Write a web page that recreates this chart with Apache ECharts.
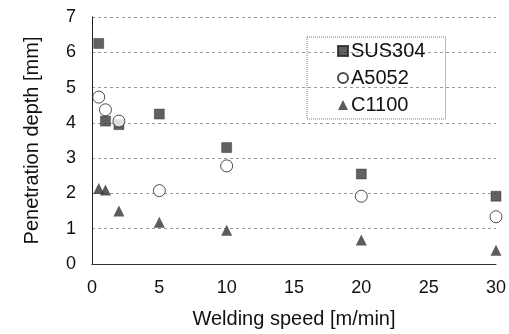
<!DOCTYPE html>
<html>
<head>
	<meta charset="utf-8">
	<title>Penetration depth</title>
	<script src="https://cdn.jsdelivr.net/npm/echarts@6/dist/echarts.min.js"></script>
	<style>
		html, body { margin: 0; padding: 0; background: #fff; }
		#main { width: 509px; height: 334px; }
	</style>
</head>
<body>
	<div id="main"></div>
	<script>
		// welding speed [m/min] per point
		var speedSUS = [0.5, 1, 2, 5, 10, 20, 30];
		var depthSUS = [6.25, 4.05, 3.95, 4.25, 3.3, 2.55, 1.92];
		var speedA = [0.5, 1, 2, 5, 10, 20, 30];
		var depthA = [4.73, 4.37, 4.05, 2.08, 2.78, 1.92, 1.34];
		var speedC = [0.5, 1, 2, 5, 10, 20, 30];
		var depthC = [2.14, 2.1, 1.5, 1.18, 0.96, 0.68, 0.39];
		var names = ['SUS304', 'A5052', 'C1100'];

		function pairs(xs, ys) {
			var out = [];
			for (var i = 0; i < xs.length; i++) out.push([xs[i], ys[i]]);
			return out;
		}

		var font = 'Liberation Sans, Arial, sans-serif';
		var chart = echarts.init(document.getElementById('main'));
		var option = {
			animation: false,
			textStyle: { fontFamily: font },
			grid: { left: 92, right: 6, top: 17, bottom: 67 },
			legend: {
				orient: 'vertical',
				left: 307,
				top: 37,
				padding: [4, 20, 4, 30],
				itemGap: 7,
				itemWidth: 10,
				itemHeight: 10,
				borderColor: '#777',
				borderWidth: 1,
				borderType: 'dotted',
				textStyle: { fontSize: 20, color: '#111', fontFamily: font, padding: [0, 0, 0, -2] },
				data: names
			},
			xAxis: [{
				type: 'value',
				min: 0, max: 30, interval: 5,
				name: 'Welding speed [m/min]',
				nameLocation: 'middle',
				nameGap: 45,
				nameTextStyle: { fontSize: 20, color: '#111' },
				axisLine: { show: true, lineStyle: { color: '#888', type: 'dotted' } },
				axisTick: { show: false },
				axisLabel: { fontSize: 18, color: '#111', margin: 15 },
				splitLine: { show: false }
			}, {
				type: 'value', position: 'top',
				min: 0, max: 30,
				axisLine: { show: true, lineStyle: { color: '#333' } },
				axisTick: { show: false }, axisLabel: { show: false }, splitLine: { show: false }
			}],
			yAxis: [{
				type: 'value',
				min: 0, max: 7, interval: 1,
				name: 'Penetration depth [mm]',
				nameLocation: 'middle',
				nameGap: 50,
				nameTextStyle: { fontSize: 20, color: '#111' },
				axisLine: { show: true, lineStyle: { color: '#888', type: 'dotted' } },
				axisTick: { show: false },
				axisLabel: { fontSize: 18, color: '#111', margin: 16 },
				splitLine: { show: true, lineStyle: { color: '#999', type: [3, 3] } }
			}, {
				type: 'value', position: 'right',
				min: 0, max: 7,
				axisLine: { show: true, lineStyle: { color: '#222' } },
				axisTick: { show: false }, axisLabel: { show: false }, splitLine: { show: false }
			}],
			series: [{
				name: names[0],
				type: 'scatter',
				symbol: 'rect',
				symbolSize: 10,
				itemStyle: { color: '#3a3a3a', borderColor: '#222', borderWidth: 0.5 },
				data: pairs(speedSUS, depthSUS),
				z: 3
			}, {
				name: names[1],
				type: 'scatter',
				symbol: 'circle',
				symbolSize: 12,
				itemStyle: { color: '#fff', borderColor: '#222', borderWidth: 1 },
				data: pairs(speedA, depthA),
				z: 4
			}, {
				name: names[2],
				type: 'scatter',
				symbol: 'triangle',
				symbolSize: 11,
				itemStyle: { color: '#333' },
				data: pairs(speedC, depthC),
				z: 3
			}]
		};
		chart.setOption(option);
	</script>
</body>
</html>
